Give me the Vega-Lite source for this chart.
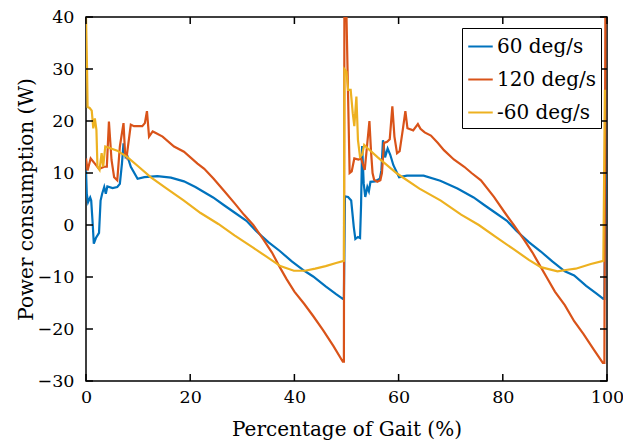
{
  "$schema": "https://vega.github.io/schema/vega-lite/v6.json",
  "width": 521,
  "height": 364,
  "autosize": {"type": "none"},
  "padding": {"left": 86, "top": 17, "right": 16, "bottom": 63},
  "background": "white",
  "datasets": {
    "xticks": [{"v":0},{"v":20},{"v":40},{"v":60},{"v":80},{"v":100}],
    "yticks": [{"v":-30},{"v":-20},{"v":-10},{"v":0},{"v":10},{"v":20},{"v":30},{"v":40}]
  },
  "config": {
    "font": "DejaVu Serif",
    "view": {"stroke": "#000000", "strokeWidth": 1.5},
    "axis": {
      "grid": false,
      "domain": false,
      "ticks": false,
      "labelFont": "DejaVu Serif",
      "titleFont": "DejaVu Serif",
      "labelFontSize": 17.5,
      "titleFontSize": 20,
      "titleFontWeight": "normal",
      "labelColor": "#000000",
      "titleColor": "#000000",
      "labelFlush": false,
      "labelOverlap": false
    },
    "legend": {"labelFont": "DejaVu Serif"}
  },
  "layer": [
    {
      "data": {"values": [
        {"x":0,"y":10.5},{"x":0.15,"y":6.0},{"x":0.4,"y":4.4},{"x":0.8,"y":5.3},{"x":1.0,"y":4.7},{"x":1.3,"y":0},{"x":1.5,"y":-3.6},{"x":1.9,"y":-2.5},{"x":2.5,"y":-1.5},{"x":2.8,"y":4.7},{"x":3.1,"y":6.0},{"x":3.5,"y":7.3},{"x":3.8,"y":6.0},{"x":4.1,"y":7.4},{"x":5.1,"y":7.1},{"x":6.0,"y":7.3},{"x":6.5,"y":7.9},{"x":6.9,"y":11.8},{"x":7.2,"y":15.7},{"x":7.6,"y":13.1},{"x":7.9,"y":13.4},{"x":8.6,"y":11.2},{"x":9.9,"y":8.9},{"x":11.2,"y":9.2},{"x":13.7,"y":9.4},{"x":16.3,"y":9.1},{"x":18.8,"y":8.4},{"x":21,"y":7.3},{"x":22.7,"y":6.3},{"x":24.4,"y":5.3},{"x":26.5,"y":3.8},{"x":28.5,"y":2.4},{"x":30.8,"y":0.8},{"x":32.6,"y":-1.1},{"x":35,"y":-3.3},{"x":37.2,"y":-5.0},{"x":39.5,"y":-7.0},{"x":41.9,"y":-8.8},{"x":43.6,"y":-9.9},{"x":46,"y":-11.8},{"x":48,"y":-13.3},{"x":49.3,"y":-14.2},{"x":49.5,"y":-14.2},{"x":49.7,"y":5.5},{"x":50.3,"y":5.4},{"x":50.9,"y":4.7},{"x":51.4,"y":-0.4},{"x":51.7,"y":-2.7},{"x":52.2,"y":-2.3},{"x":52.6,"y":-2.5},{"x":52.8,"y":4},{"x":53.0,"y":15.2},{"x":53.3,"y":8},{"x":53.6,"y":5.4},{"x":54.0,"y":7.3},{"x":54.3,"y":6.5},{"x":54.6,"y":8.3},{"x":55.5,"y":8.4},{"x":56.4,"y":8.9},{"x":56.7,"y":10.5},{"x":57.0,"y":16.3},{"x":57.4,"y":13},{"x":57.9,"y":14.7},{"x":58.4,"y":13.5},{"x":59.0,"y":11.5},{"x":60.1,"y":9.2},{"x":61.6,"y":9.5},{"x":64.8,"y":9.5},{"x":68.0,"y":8.5},{"x":71.3,"y":7.0},{"x":74.4,"y":5.3},{"x":76.5,"y":3.8},{"x":78.5,"y":2.4},{"x":80.8,"y":0.8},{"x":82.6,"y":-1.1},{"x":85,"y":-3.3},{"x":87.3,"y":-5.1},{"x":89.5,"y":-7.0},{"x":91.9,"y":-8.9},{"x":93.7,"y":-9.7},{"x":96,"y":-11.7},{"x":98,"y":-13.2},{"x":99.3,"y":-14.2},{"x":99.5,"y":-14.2},{"x":99.7,"y":10}
      ]},
      "mark": {"type": "line", "clip": true, "strokeWidth": 2.2},
      "encoding": {
        "x": {"field": "x", "type": "quantitative", "scale": {"domain": [0, 100], "nice": false},
              "axis": {"orient": "bottom", "values": [0,20,40,60,80,100], "title": "Percentage of Gait (%)", "labelPadding": 7, "titlePadding": 14}},
        "y": {"field": "y", "type": "quantitative", "scale": {"domain": [-30, 40], "nice": false},
              "axis": {"orient": "left", "values": [-30,-20,-10,0,10,20,30,40], "title": "Power consumption (W)", "labelPadding": 12, "titlePadding": 1}},
        "color": {"datum": "60 deg/s", "type": "nominal",
                  "scale": {"domain": ["60 deg/s", "120 deg/s", "-60 deg/s"], "range": ["#0072BD", "#D95319", "#EDB120"]},
                  "legend": {"orient": "none", "legendX": 376, "legendY": 11, "title": null,
                             "strokeColor": "#000000", "fillColor": "#ffffff", "padding": 5,
                             "labelFont": "DejaVu Serif", "labelFontSize": 20, "labelColor": "#000000",
                             "symbolType": "stroke", "symbolSize": 600, "symbolStrokeWidth": 2,
                             "rowPadding": 9, "labelOffset": 3}}
      }
    },
    {
      "data": {"values": [
        {"x":0,"y":12.8},{"x":0.3,"y":10.5},{"x":0.9,"y":12.8},{"x":1.7,"y":11.8},{"x":2.5,"y":10.8},{"x":3.5,"y":11.2},{"x":4.0,"y":11.2},{"x":4.4,"y":19.9},{"x":4.9,"y":12.5},{"x":5.4,"y":9.2},{"x":6.0,"y":8.6},{"x":6.5,"y":15.1},{"x":7.2,"y":19.6},{"x":7.5,"y":13.8},{"x":7.8,"y":13.1},{"x":8.3,"y":17.0},{"x":8.6,"y":19.3},{"x":9.2,"y":19.0},{"x":10.8,"y":19.0},{"x":11.3,"y":19.6},{"x":11.7,"y":21.9},{"x":12.1,"y":17.0},{"x":12.8,"y":18.0},{"x":13.4,"y":17.7},{"x":14.7,"y":17.0},{"x":16.9,"y":15.1},{"x":18.8,"y":14.1},{"x":21.4,"y":11.8},{"x":22.7,"y":10.8},{"x":24.5,"y":8.9},{"x":26.4,"y":6.7},{"x":28.5,"y":4.2},{"x":30.3,"y":2.0},{"x":32.1,"y":0.0},{"x":34,"y":-2.7},{"x":35.7,"y":-5.3},{"x":37.3,"y":-8.3},{"x":38.5,"y":-10.4},{"x":40,"y":-12.8},{"x":41.9,"y":-15.2},{"x":43.6,"y":-17.5},{"x":45.5,"y":-20.2},{"x":47.5,"y":-23.3},{"x":49.3,"y":-26.3},{"x":49.5,"y":-26.3},{"x":49.6,"y":45},{"x":49.9,"y":45},{"x":50.2,"y":30},{"x":50.6,"y":10.0},{"x":51.0,"y":10.3},{"x":51.5,"y":12.8},{"x":52.3,"y":12.6},{"x":52.8,"y":12.8},{"x":53.1,"y":11.8},{"x":53.5,"y":10.6},{"x":54.4,"y":20.0},{"x":54.7,"y":14.3},{"x":55.0,"y":10.0},{"x":55.3,"y":8.7},{"x":55.9,"y":8.3},{"x":56.5,"y":8.6},{"x":56.8,"y":10},{"x":57.2,"y":15.8},{"x":57.8,"y":16.0},{"x":58.3,"y":16.5},{"x":58.8,"y":22.8},{"x":59.2,"y":17},{"x":59.7,"y":13.8},{"x":60.2,"y":14.2},{"x":60.8,"y":18.3},{"x":61.3,"y":21.9},{"x":61.7,"y":18.6},{"x":62.8,"y":18.2},{"x":63.7,"y":19.4},{"x":64.2,"y":18.5},{"x":65,"y":17.8},{"x":66.2,"y":17.2},{"x":67.5,"y":15.8},{"x":68.7,"y":14.4},{"x":70.6,"y":12.6},{"x":72.6,"y":11.2},{"x":74,"y":10.0},{"x":75.8,"y":8.6},{"x":78.3,"y":5.4},{"x":80.3,"y":2.5},{"x":82.1,"y":0.0},{"x":84,"y":-2.7},{"x":85.7,"y":-5.3},{"x":87.3,"y":-8.1},{"x":88.5,"y":-10.2},{"x":90,"y":-12.8},{"x":91.9,"y":-15.4},{"x":93.7,"y":-18.5},{"x":95.5,"y":-21.0},{"x":97.5,"y":-24.0},{"x":99.2,"y":-26.5},{"x":99.5,"y":-26.5},{"x":99.7,"y":45}
      ]},
      "mark": {"type": "line", "clip": true, "strokeWidth": 2.2},
      "encoding": {
        "x": {"field": "x", "type": "quantitative"},
        "y": {"field": "y", "type": "quantitative"},
        "color": {"datum": "120 deg/s", "type": "nominal"}
      }
    },
    {
      "data": {"values": [
        {"x":0,"y":40},{"x":0.2,"y":30},{"x":0.3,"y":22.7},{"x":0.7,"y":22.5},{"x":1.1,"y":22},{"x":1.4,"y":18.6},{"x":1.7,"y":20.5},{"x":2.0,"y":18.3},{"x":2.2,"y":11.2},{"x":2.6,"y":10.6},{"x":3.0,"y":13.8},{"x":3.3,"y":11.2},{"x":3.7,"y":15.1},{"x":6,"y":14.3},{"x":8,"y":13.0},{"x":10,"y":11.3},{"x":12.4,"y":9.2},{"x":15.5,"y":7.0},{"x":18.8,"y":4.7},{"x":22,"y":2.3},{"x":25.4,"y":0.2},{"x":28.5,"y":-2.0},{"x":32,"y":-4.3},{"x":34.5,"y":-6.0},{"x":37.3,"y":-7.9},{"x":39.9,"y":-8.8},{"x":42,"y":-8.8},{"x":44,"y":-8.4},{"x":46,"y":-7.9},{"x":48,"y":-7.3},{"x":49.5,"y":-6.9},{"x":49.6,"y":30},{"x":50.0,"y":29.5},{"x":50.3,"y":26},{"x":50.8,"y":26},{"x":51.2,"y":21.5},{"x":51.5,"y":19},{"x":51.9,"y":24.7},{"x":52.2,"y":16.3},{"x":52.6,"y":13.1},{"x":53.0,"y":13.5},{"x":53.4,"y":15.4},{"x":54.0,"y":14.8},{"x":56,"y":13.0},{"x":59.7,"y":9.9},{"x":64,"y":7.0},{"x":68.1,"y":4.7},{"x":72,"y":2.0},{"x":75.4,"y":0.0},{"x":78.5,"y":-2.2},{"x":82,"y":-4.6},{"x":85,"y":-6.7},{"x":87.3,"y":-8.1},{"x":90.5,"y":-8.9},{"x":92.4,"y":-8.6},{"x":94,"y":-8.4},{"x":96.9,"y":-7.5},{"x":99.3,"y":-6.9},{"x":99.6,"y":26}
      ]},
      "mark": {"type": "line", "clip": true, "strokeWidth": 2.2},
      "encoding": {
        "x": {"field": "x", "type": "quantitative"},
        "y": {"field": "y", "type": "quantitative"},
        "color": {"datum": "-60 deg/s", "type": "nominal"}
      }
    },
    {
      "data": {"name": "xticks"},
      "mark": {"type": "rule", "color": "#000000", "strokeWidth": 1.5},
      "encoding": {"x": {"field": "v", "type": "quantitative"}, "y": {"datum": -30}, "y2": {"datum": -28.65}}
    },
    {
      "data": {"name": "xticks"},
      "mark": {"type": "rule", "color": "#000000", "strokeWidth": 1.5},
      "encoding": {"x": {"field": "v", "type": "quantitative"}, "y": {"datum": 40}, "y2": {"datum": 38.65}}
    },
    {
      "data": {"name": "yticks"},
      "mark": {"type": "rule", "color": "#000000", "strokeWidth": 1.5},
      "encoding": {"y": {"field": "v", "type": "quantitative"}, "x": {"datum": 0}, "x2": {"datum": 1.34}}
    },
    {
      "data": {"name": "yticks"},
      "mark": {"type": "rule", "color": "#000000", "strokeWidth": 1.5},
      "encoding": {"y": {"field": "v", "type": "quantitative"}, "x": {"datum": 100}, "x2": {"datum": 98.66}}
    }
  ]
}
